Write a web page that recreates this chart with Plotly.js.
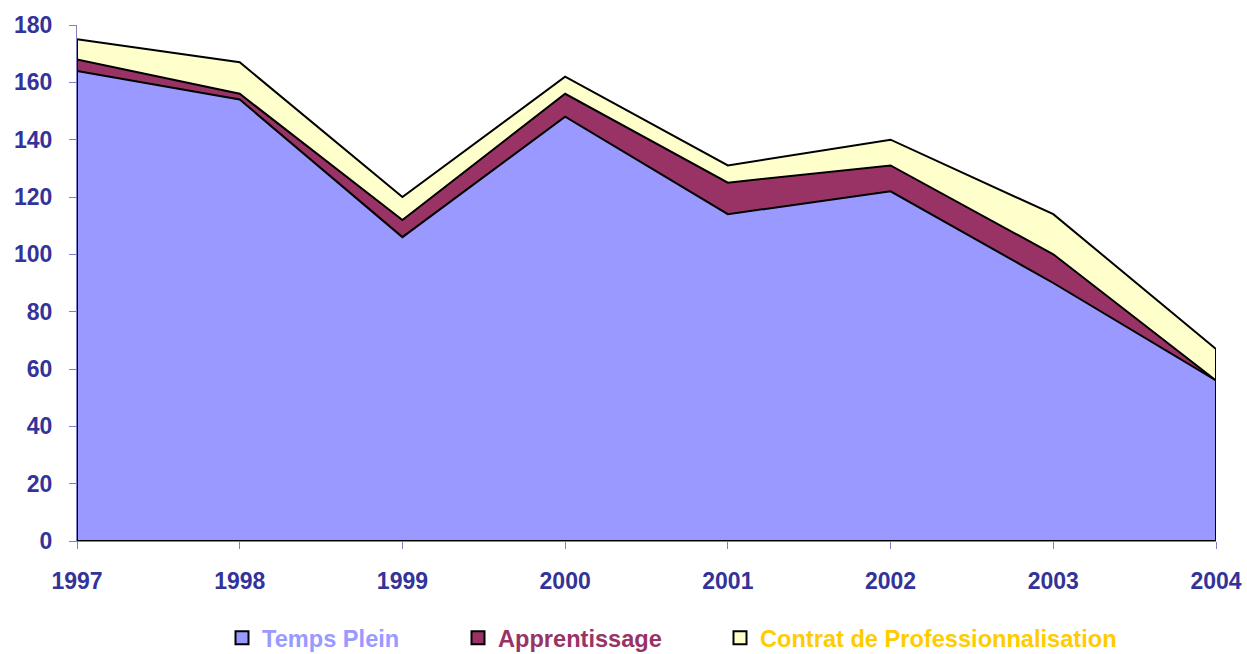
<!DOCTYPE html>
<html><head><meta charset="utf-8">
<script src="https://cdn.plot.ly/plotly-3.0.1.min.js"></script>
<style>html,body{margin:0;padding:0;background:#fff}#chart{width:1247px;height:654px}</style>
</head><body><div id="chart"></div>
<script>
const years = [1997, 1998, 1999, 2000, 2001, 2002, 2003, 2004];
const tempsPlein = [164, 154, 106, 148, 114, 122, 90, 56];
const apprentissage = [4, 2, 6, 8, 11, 9, 10, 0];
const contratPro = [7, 11, 8, 6, 6, 9, 14, 11];
const seriesNames = ['Temps Plein', 'Apprentissage', 'Contrat de Professionnalisation'];
const fillColors = ['#9999FF', '#993366', '#FFFFCC'];
const legendTextColors = ['#9999FF', '#993366', '#FFCC00'];

const FONT = 'Arial, "Liberation Sans", sans-serif';
const seriesVals = [tempsPlein, apprentissage, contratPro];
const traces = [];
seriesVals.forEach((vals, i) => {
  traces.push({
    x: years, y: vals, type: 'scatter', mode: 'lines', stackgroup: 'one',
    fillcolor: fillColors[i], line: {color: '#000000', width: 2},
    name: seriesNames[i], showlegend: false, hoverinfo: 'x+y+name'
  });
});
const totals = years.map((_, k) => seriesVals.reduce((s, v) => s + v[k], 0));
const last = years.length - 1;
traces.push({
  x: [years[0], years[0], years[last], years[last]],
  y: [totals[0], 0, 0, totals[last]],
  type: 'scatter', mode: 'lines', line: {color: '#000000', width: 2},
  showlegend: false, hoverinfo: 'skip'
});
const legendX = [222 / 1247, 458 / 1247, 720 / 1247];
const legendIds = ['legend', 'legend2', 'legend3'];
seriesNames.forEach((n, i) => {
  traces.push({
    x: [null], y: [null], type: 'scatter', mode: 'markers',
    marker: {symbol: 'square', size: 13, color: fillColors[i], line: {color: '#000000', width: 2}},
    name: '<span style="color:' + legendTextColors[i] + '">' + n + '</span>',
    legend: legendIds[i], showlegend: true
  });
});

const layout = {
  width: 1247, height: 654,
  margin: {l: 77, r: 31, t: 25, b: 113},
  paper_bgcolor: '#ffffff', plot_bgcolor: '#ffffff',
  font: {family: FONT, size: 23, color: '#333399'},
  showlegend: true,
  xaxis: {
    range: [years[0], years[last]], tickvals: years, ticktext: years.map(String),
    showgrid: false, zeroline: false, showline: true, linecolor: '#8080C0', linewidth: 1,
    ticks: 'outside', ticklen: 7, tickcolor: '#8080C0', tickwidth: 1,
    tickfont: {family: FONT, size: 23, color: '#333399', weight: 'bold'},
    ticklabelstandoff: 12, fixedrange: true
  },
  yaxis: {
    range: [0, 180], dtick: 20, tick0: 0,
    showgrid: false, zeroline: false, showline: true, linecolor: '#8080C0', linewidth: 1,
    ticks: 'outside', ticklen: 7, tickcolor: '#8080C0', tickwidth: 1,
    tickfont: {family: FONT, size: 23, color: '#333399', weight: 'bold'},
    ticklabelstandoff: 12, fixedrange: true
  }
};
legendIds.forEach((id, i) => {
  layout[id] = {
    xref: 'container', yref: 'container',
    x: legendX[i], xanchor: 'left', y: (654 - 638) / 654, yanchor: 'middle',
    orientation: 'h', bgcolor: 'rgba(0,0,0,0)', borderwidth: 0,
    font: {family: FONT, size: 23.6, weight: 'bold'}, itemwidth: 30
  };
});

Plotly.newPlot('chart', traces, layout, {displayModeBar: false, staticPlot: true});
</script></body></html>
